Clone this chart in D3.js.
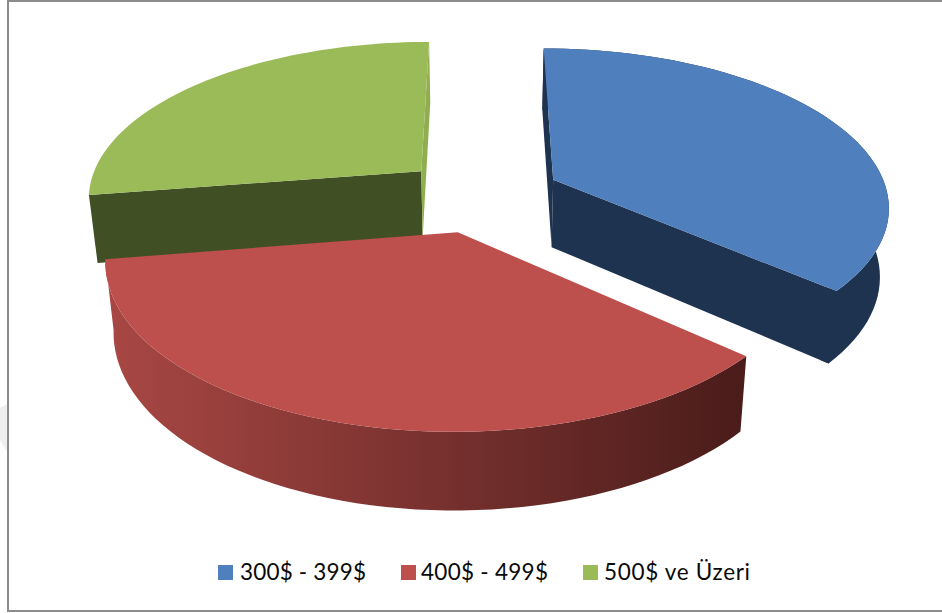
<!DOCTYPE html>
<html><head><meta charset="utf-8">
<script src="https://cdn.jsdelivr.net/npm/d3@7/dist/d3.min.js"></script>
<style>html,body{margin:0;padding:0;background:#fff}svg{display:block}</style></head>
<body><svg id="c" width="942" height="613"></svg>
<script>
const categories = ["300$ - 399$", "400$ - 499$", "500$ ve Üzeri"];
const values = [36.5, 36, 27.5];
const topColors = ["#4f7fbc", "#bd4f4c", "#9bbb59"];
const wallColors = [["#1e3350","#1e3350"], ["#a84744","#4a1c1a"], ["#414f24","#414f24"]];
const startDegrees = 0;
const W = 942, H = 613;
const Cx = 481, Cy = 195, Rx = 335, Ry = 156, K = 0.154, Q = 0.978, Hgt = 68, E = 0.24;
const svg = d3.select("#c");
const defs = svg.append("defs");
const rad = Math.PI/180;

// faint mark left of the frame, and the frame (open on the right)
svg.append("path").attr("d","M0,408 L7,404 L7,452 L0,440Z").attr("fill","#efefef");
svg.append("path").attr("d","M942,1 H8 V611 H942").attr("fill","none")
  .attr("stroke","#8c8c8c").attr("stroke-width",2);

function project(x, y, z){ // x,y world in plan; z 0 top, 1 bottom
  const p = 1/(1-K*y), q = z ? Q : 1;
  return [Cx + Rx*x*p*q, Cy + Ry*y*p*q + z*Hgt*p];
}
const pie = d3.pie().sort(null).value(d=>d).startAngle(startDegrees*rad).endAngle(startDegrees*rad+2*Math.PI);
const arcs = pie(values);
const line = d3.line();

const slices = arcs.map((a,i)=>{
  const mid=(a.startAngle+a.endAngle)/2;
  const ox=E*Math.sin(mid), oy=-E*Math.cos(mid);
  const angs=d3.range(0,61).map(j=>a.startAngle+(a.endAngle-a.startAngle)*j/60);
  const rim=z=>angs.map(t=>project(ox+Math.sin(t),oy-Math.cos(t),z));
  const apex=z=>project(ox,oy,z);
  return {i,a,rim,apex};
});

// gradients for walls
wallColors.forEach((c,i)=>{
  const g=defs.append("linearGradient").attr("id","w"+i).attr("gradientUnits","userSpaceOnUse")
    .attr("x1",i==1?110:80).attr("x2",i==1?745:890).attr("y1",0).attr("y2",0);
  g.append("stop").attr("offset",0).attr("stop-color",c[0]);
  g.append("stop").attr("offset",1).attr("stop-color",c[1]);
});

const order=[2,0,1];
order.forEach(i=>{
  const s=slices[i], g=svg.append("g");
  const rt=s.rim(0), rb=s.rim(1), a0=s.apex(0), a1=s.apex(1);
  const face=(pts,fill)=>g.append("path").attr("d",line(pts)+"Z").attr("fill",fill);
  const toward=(p,q,f)=>[p[0]+(q[0]-p[0])*f,p[1]+(q[1]-p[1])*f];
  if(i==2){
    face([a0,rt[0],rb[0],a1],"#404f24");
    face([a0,rt[60],rb[60],a1],"#8fae50");
  } else if(i==0){
    face([a0,rt[0],rb[0],a1],"#1e3350");
    face([a0,rt[60],rb[60],a1],"#1e3350");
  }
  if(i==0){
    // same flat colour as the end face, so overlap it to avoid a seam along the shared edge
    const wall=rt.concat([toward(rt[60],a0,0.03),toward(rb[60],a1,0.03)],rb.slice().reverse());
    g.append("path").attr("d",line(wall)+"Z").attr("fill",`url(#w${i})`);
  } else if(i==1){
    g.append("path").attr("d",line(rt.concat(rb.slice().reverse()))+"Z").attr("fill",`url(#w${i})`);
  }
  g.append("path").attr("d",line([a0].concat(rt))+"Z").attr("fill",topColors[i]);
});

// legend
const swatchX=[218,401,583], textX=[240,421,604], textW=[126,127,146];
categories.forEach((c,i)=>{
  svg.append("rect").attr("x",swatchX[i]).attr("y",565).attr("width",15).attr("height",15).attr("fill",topColors[i]);
  svg.append("text").attr("x",textX[i]).attr("y",580).attr("font-family","Lato, 'Open Sans', sans-serif")
    .attr("font-size",22.5).attr("fill","#0a0a0a")
    .attr("textLength",textW[i]).attr("lengthAdjust","spacing").text(c);
});
</script></body></html>
